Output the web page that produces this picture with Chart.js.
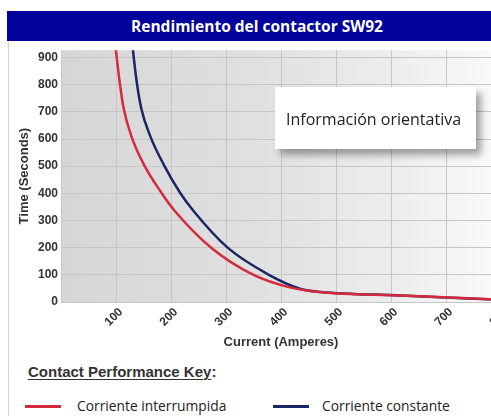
<!DOCTYPE html>
<html>
<head>
<meta charset="utf-8">
<script src="https://cdn.jsdelivr.net/npm/chart.js@4"></script>
<style>
  html, body { margin: 0; padding: 0; width: 491px; height: 416px; overflow: hidden; background: #fff; }
  body { position: relative; font-family: 'Open Sans', sans-serif; }
  .frame { position: absolute; left: 8px; top: 40px; width: 1px; height: 376px; background: #d4d4d4; }
  .title-bar {
    position: absolute; left: 7px; top: 11px; width: 500px; height: 30px;
    background: #02029c; color: #fff; font-weight: 700; font-size: 15.5px;
    line-height: 30px; text-align: center;
  }
  .chart-box { position: absolute; left: 0; top: 40px; width: 520px; height: 312px; }
  .info {
    position: absolute; left: 275px; top: 87px; width: 201px; height: 62px;
    background: #fff; box-shadow: 5px 6px 7px rgba(0,0,0,0.35);
    font-size: 16px; color: #222; padding: 21px 0 0 11px; box-sizing: border-box;
  }
  .key-title {
    position: absolute; left: 28px; top: 363px; font-family: 'Liberation Sans', Arial, sans-serif;
    font-weight: 700; font-size: 15px; color: #333;
  }
  .key-title u { text-decoration-thickness: 1px; text-underline-offset: 2px; }
  .key { position: absolute; top: 396px; font-size: 13.8px; color: #222; }
  .key .swatch { position: absolute; top: 9px; width: 36px; height: 3px; }
</style>
</head>
<body>
<div class="frame"></div>
<div class="title-bar">Rendimiento del contactor SW92</div>
<div class="chart-box"><canvas id="curve-chart" width="520" height="312"></canvas></div>
<div class="info">Información orientativa</div>
<div class="key-title"><u>Contact Performance Key</u>:</div>
<div class="key" style="left:25px"><span class="swatch" style="left:0;background:#d42a3c"></span><span style="position:absolute;left:52px;white-space:nowrap">Corriente interrumpida</span></div>
<div class="key" style="left:273px"><span class="swatch" style="left:0;background:#1c2566"></span><span style="position:absolute;left:49px;white-space:nowrap">Corriente constante</span></div>

<script>
// Values (current in A, time in s)
const interruptedAmps = [98, 106, 114, 128, 151, 181, 207, 273, 350, 418, 473, 618, 800];
const interruptedSecs = [960, 820, 712, 610, 505, 407, 335, 200, 100, 53, 36, 24, 8];
const constantAmps = [129, 137, 146, 163, 187, 215, 241, 303, 378, 436, 473, 618, 800];
const constantSecs = [960, 820, 712, 607, 505, 407, 335, 200, 100, 48, 37, 24, 8];
const xTicks = [0, 100, 200, 300, 400, 500, 600, 700, 800];
const yTicks = [0, 100, 200, 300, 400, 500, 600, 700, 800, 900];

const toPoints = (xs, ys) => xs.map((x, i) => ({ x: x, y: ys[i] }));

// gray plot background fading to white on the right
const plotBackground = {
  id: 'plotBackground',
  beforeDraw(chart) {
    const { ctx, chartArea: a } = chart;
    const g = ctx.createLinearGradient(a.left, 0, a.left + 430, 0);
    g.addColorStop(0, '#d6d6d6');
    g.addColorStop(0.45, '#e0e0e0');
    g.addColorStop(0.75, '#ececec');
    g.addColorStop(1, '#f9f9f9');
    ctx.save();
    ctx.fillStyle = g;
    ctx.fillRect(a.left, a.top, a.right - a.left, a.bottom - a.top);
    ctx.restore();
  }
};

const tickFont = { family: "'Liberation Sans', Arial, sans-serif", size: 12, weight: 'bold' };

new Chart(document.getElementById('curve-chart'), {
  type: 'line',
  data: {
    datasets: [{
      label: 'Corriente interrumpida',
      data: toPoints(interruptedAmps, interruptedSecs),
      borderColor: '#d42a3c',
      borderWidth: 2.5,
      pointRadius: 0,
      cubicInterpolationMode: 'monotone'
    }, {
      label: 'Corriente constante',
      data: toPoints(constantAmps, constantSecs),
      borderColor: '#1c2566',
      borderWidth: 2.5,
      pointRadius: 0,
      cubicInterpolationMode: 'monotone'
    }]
  },
  options: {
    responsive: false,
    animation: false,
    layout: { padding: { top: 8, right: 19, left: 0, bottom: 0 } },
    plugins: { legend: { display: false }, tooltip: { enabled: false } },
    scales: {
      x: {
        type: 'linear',
        min: 0,
        max: 800,
        afterBuildTicks: (s) => { s.ticks = xTicks.map(v => ({ value: v })); },
        afterFit: (s) => { s.height = 50; },
        grid: { color: '#c6c6c6', drawTicks: false },
        border: { display: false },
        ticks: {
          color: '#333',
          font: tickFont,
          minRotation: 45,
          maxRotation: 45,
          autoSkip: false,
          padding: 3,
          labelOffset: 5,
          callback: (v) => v === 0 ? '' : v
        },
        title: {
          display: true,
          text: 'Current (Amperes)',
          color: '#333',
          font: { family: "'Liberation Sans', Arial, sans-serif", size: 13, weight: 'bold' },
          padding: { top: 0, bottom: 2 }
        }
      },
      y: {
        min: 0,
        max: 927,
        afterBuildTicks: (s) => { s.ticks = yTicks.map(v => ({ value: v })); },
        afterFit: (s) => { s.width = 61; },
        grid: { color: '#c6c6c6', drawTicks: false },
        border: { display: false },
        ticks: { color: '#333', font: tickFont, padding: 3 },
        title: {
          display: true,
          text: 'Time (Seconds)',
          color: '#333',
          font: { family: "'Liberation Sans', Arial, sans-serif", size: 13, weight: 'bold' },
          padding: { top: 17, bottom: 0 }
        }
      }
    }
  },
  plugins: [plotBackground]
});
</script>
</body>
</html>
